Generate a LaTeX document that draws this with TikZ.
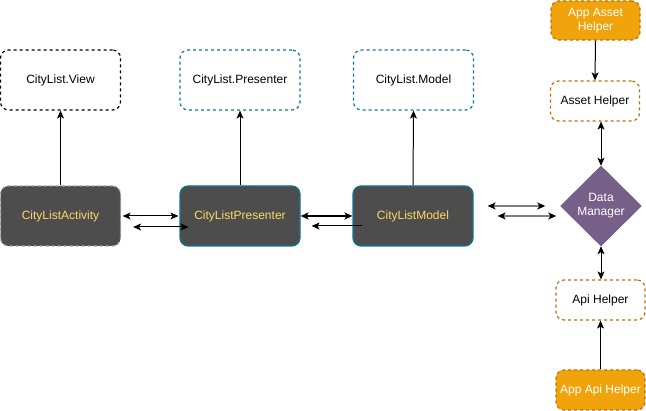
\documentclass[tikz,border=0pt]{standalone}
\usepackage{fontspec}
\setmainfont{Liberation Sans}
\usetikzlibrary{arrows.meta,shapes.geometric}
\definecolor{darkfill}{HTML}{4D4D4D}
\definecolor{ytext}{HTML}{FFD966}
\definecolor{bblue}{HTML}{10739E}
\definecolor{borange}{HTML}{BD7000}
\definecolor{forange}{HTML}{F0A30A}
\definecolor{purp}{HTML}{76608A}
\definecolor{purpb}{HTML}{6A5580}
\definecolor{lgray}{HTML}{A0A0A0}
\definecolor{agray}{HTML}{7F7F7F}
\tikzset{
  box/.style={rectangle, rounded corners=8pt, minimum width=#1, inner sep=0pt, font=\fontsize{12}{14}\selectfont, align=center},
  box/.default=120pt,
  dsh/.style={dash pattern=on 3pt off 3pt, line width=1.2pt},
  iface/.style={box, draw=black, dsh, fill=white, minimum height=60pt},
  ifaceb/.style={iface, draw=bblue},
  dark/.style={box, fill=darkfill, text=ytext, minimum height=60pt, line width=1.2pt},
  helper/.style={box=89pt, draw=borange, dsh, fill=white, minimum height=40pt},
  apphelper/.style={box=89pt, draw=borange, dsh, fill=forange, text=white, minimum height=39pt},
  arr/.style={-{Stealth[length=8pt,width=7pt,inset=2pt]}, line width=1pt},
  darr/.style={{Stealth[length=8pt,width=7pt,inset=2pt]}-{Stealth[length=8pt,width=7pt,inset=2pt]}, line width=1pt},
  garr/.style={{Stealth[length=8pt,width=7pt,inset=2pt,color=black]}-{Stealth[length=8pt,width=7pt,inset=2pt,color=black]}, line width=1.3pt, draw=agray},
}
\begin{document}
\begin{tikzpicture}[x=1pt,y=-1pt]
\useasboundingbox (0,0) rectangle (646,411);
% top interfaces
\node[iface] (view) at (60.5,80) {CityList.View};
\node[ifaceb] (pview) at (240,80) {CityList.Presenter};
\node[ifaceb] (mview) at (413.5,80) {CityList.Model};
% implementations
\node[dark, draw=lgray, dsh] (act) at (60.5,216) {CityListActivity};
\node[dark, draw=bblue] (pres) at (240,216) {CityListPresenter};
\node[dark, draw=bblue] (model) at (413,216) {CityListModel};
% right column
\node[apphelper] (appasset) at (595.5,20.5) {App Asset\\Helper};
\node[helper] (asset) at (595,101) {Asset Helper};
\node[diamond, aspect=1, minimum width=81pt, minimum height=80pt, inner sep=0pt, fill=purp, draw=purpb, text=white, align=center, font=\fontsize{12}{14}\selectfont] (dm) at (601,206) {Data\\Manager};
\node[helper] (api) at (600.5,300) {Api Helper};
\node[apphelper, minimum height=40pt] (appapi) at (600.5,390) {App Api Helper};
% vertical connectors
\draw[arr] (act.north) -- (view.south);
\draw[arr] (pres.north) -- (pview.south);
\draw[arr] (model.north) -- (mview.south);
\draw[arr] (appasset.south) -- (asset.north);
\draw[darr] (dm.north) -- (dm.north |- asset.south);
\draw[darr] (dm.south) -- (dm.south |- api.north);
\draw[arr] (appapi.north) -- (api.south);
% horizontal connectors
\draw[darr] ([xshift=1.5pt]act.east) -- ([xshift=-1pt]pres.west);
\draw[darr] ([shift={(12,11)}]act.east) -- ([shift={(9,11)}]pres.west);
\draw[darr, line width=2pt] (pres.east) -- (model.west);
\draw[arr] ([shift={(10,10)}]model.west) -- ([shift={(11,10)}]pres.east);
\draw[garr] ([shift={(14,-10)}]model.east) -- ([shift={(-15,0)}]dm.west);
\draw[garr] ([shift={(24,0)}]model.east) -- ([shift={(-4,10)}]dm.west);
\end{tikzpicture}
\end{document}
